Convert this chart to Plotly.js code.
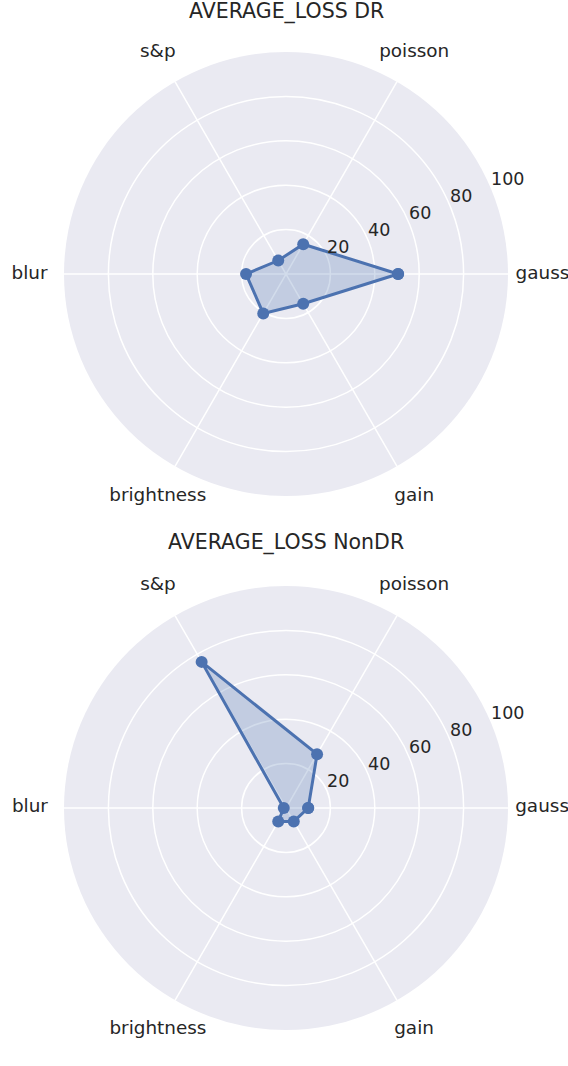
<!DOCTYPE html>
<html>
<head>
<meta charset="utf-8">
<script src="https://cdn.plot.ly/plotly-3.0.1.min.js"></script>
<style>html,body{margin:0;padding:0;background:#fff;}#chart{width:568px;height:1066px;}</style>
</head>
<body>
<div id="chart"></div>
<script>
const categories = ["gauss", "poisson", "s&p", "blur", "brightness", "gain"];
const lossDR = [50.5, 15.5, 7, 18, 20.5, 15.5];
const lossNonDR = [10, 28, 76, 1, 7, 7];
const radialTicks = [20, 40, 60, 80, 100];
const titles = ["AVERAGE_LOSS DR", "AVERAGE_LOSS NonDR"];

const W = 568, H = 1066;
const lineColor = "#4C72B0";
const fillColor = "rgba(76,114,176,0.25)";
const textColor = "#262626";
const fontFam = "DejaVu Sans, sans-serif";
const rLabelAngle = 22.5;     // matplotlib default radial label position
const rMax = 100;
const catLabelRadius = 115.5; // angular labels sit just outside the plot circle
// panel geometry (pixels): centre and radius of each polar plot
const panelCx = 286, panelCy = [274, 808], panelR = 222;

const angles = categories.map((c, i) => i * 360 / categories.length);
function closed(arr) { return arr.concat([arr[0]]); }

function domainFor(cy, scale) {
  const r = panelR * scale;
  return {x: [(panelCx - r) / W, (panelCx + r) / W], y: [1 - (cy + r) / H, 1 - (cy - r) / H]};
}

function makeTraces(values, polarId, labelPolarId) {
  return [
    {
      type: "scatterpolar", subplot: polarId,
      r: closed(values), theta: closed(angles),
      mode: "lines+markers", fill: "toself", fillcolor: fillColor,
      line: {color: lineColor, width: 3},
      marker: {color: lineColor, size: 12},
      showlegend: false, hoverinfo: "skip"
    },
    {
      type: "scatterpolar", subplot: polarId,
      r: radialTicks, theta: radialTicks.map(() => rLabelAngle),
      text: radialTicks.map(String), mode: "text", textposition: "top right",
      textfont: {family: fontFam, size: 17.5, color: textColor},
      cliponaxis: false, showlegend: false, hoverinfo: "skip"
    },
    {
      type: "scatterpolar", subplot: labelPolarId,
      r: categories.map(() => catLabelRadius), theta: angles,
      text: categories, mode: "text", textposition: "middle center",
      textfont: {family: fontFam, size: 18.4, color: textColor},
      cliponaxis: false, showlegend: false, hoverinfo: "skip"
    }
  ];
}

function polarLayout(cy) {
  return {
    domain: domainFor(cy, 1),
    bgcolor: "#EAEAF2",
    angularaxis: {
      type: "linear", thetaunit: "degrees",
      tickmode: "array", tickvals: angles, showticklabels: false,
      rotation: 0, direction: "counterclockwise",
      showline: false, ticks: "",
      gridcolor: "#FFFFFF", gridwidth: 1.5
    },
    radialaxis: {
      range: [0, rMax], tickvals: radialTicks, showticklabels: false,
      angle: rLabelAngle, showline: false, ticks: "",
      gridcolor: "#FFFFFF", gridwidth: 1.5
    }
  };
}

// transparent overlay polar, same centre, used only to place the category labels
function labelPolarLayout(cy) {
  const outer = catLabelRadius + 1;
  return {
    domain: domainFor(cy, outer / rMax),
    bgcolor: "rgba(0,0,0,0)",
    angularaxis: {
      type: "linear", thetaunit: "degrees", rotation: 0, direction: "counterclockwise",
      showline: false, showgrid: false, showticklabels: false, ticks: ""
    },
    radialaxis: {
      range: [0, outer], showline: false, showgrid: false, showticklabels: false, ticks: ""
    }
  };
}

const data = makeTraces(lossDR, "polar", "polar3").concat(makeTraces(lossNonDR, "polar2", "polar4"));

const layout = {
  width: W,
  height: H,
  margin: {l: 0, r: 0, t: 0, b: 0},
  paper_bgcolor: "#FFFFFF",
  font: {family: fontFam, color: textColor},
  polar: polarLayout(panelCy[0]),
  polar2: polarLayout(panelCy[1]),
  polar3: labelPolarLayout(panelCy[0]),
  polar4: labelPolarLayout(panelCy[1]),
  annotations: [
    {text: titles[0], xref: "paper", yref: "paper", x: panelCx / W, y: 1 - 12 / H,
     xanchor: "center", yanchor: "middle", showarrow: false,
     font: {family: fontFam, size: 20.5, color: textColor}},
    {text: titles[1], xref: "paper", yref: "paper", x: panelCx / W, y: 1 - 542 / H,
     xanchor: "center", yanchor: "middle", showarrow: false,
     font: {family: fontFam, size: 20.5, color: textColor}}
  ]
};

Plotly.newPlot("chart", data, layout, {displayModeBar: false, staticPlot: true});
</script>
</body>
</html>
